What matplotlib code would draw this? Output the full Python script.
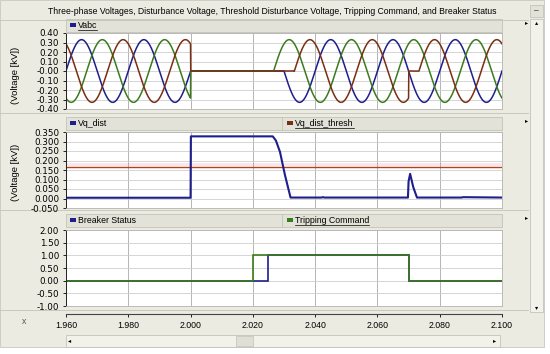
import numpy as np
import matplotlib
matplotlib.use("Agg")
import matplotlib.pyplot as plt
import matplotlib.ticker as mticker
from matplotlib.patches import Rectangle

plt.rcParams["font.family"] = ["Liberation Sans", "DejaVu Sans"]

# ---- data ----
T_START, T_END = 1.960, 2.100
x_ticks = [1.960, 1.980, 2.000, 2.020, 2.040, 2.060, 2.080, 2.100]

# three-phase voltages (50 Hz sinusoids), amplitude in kV
freq_hz = 50.0
amp_kv = 0.33
phase_names = ["a", "b", "c"]
phase_shift_deg = [0.0, -120.0, 120.0]
outage_start = 2.000
reclose_time = [2.0300, 2.0267, 2.0333]      # per phase
gap_phase_c = [2.0700, 2.0733]               # short zero on phase c

# disturbance voltage Vq_dist
vq_t = [1.960, 2.0000, 2.0001, 2.0264, 2.0274, 2.0287, 2.0303, 2.0321,
        2.0420, 2.0425, 2.0430, 2.0698, 2.0700, 2.0705, 2.0715, 2.0727,
        2.0870, 2.0875, 2.100]
vq_v = [0.004, 0.004, 0.327, 0.327, 0.305, 0.246, 0.124, 0.005,
        0.005, 0.007, 0.005, 0.005, 0.090, 0.130, 0.060, 0.005,
        0.005, 0.007, 0.005]
vq_thresh = 0.165

# breaker status / tripping command (step edges and levels)
breaker_edges = [1.960, 2.0248, 2.0700, 2.100]
breaker_vals = [0.0, 1.0, 0.0]
trip_edges = [1.960, 2.0200, 2.0700, 2.100]
trip_vals = [0.0, 1.0, 0.0]

# ---- styling ----
W, H = 550, 354
BG = "#ECEBE2"
BLUE = "#1E1E8C"
GREEN = "#3C7A1E"
BROWN = "#7A2E14"
THRESH = "#B0421C"
FS = 6.3


def box(x0, y0, x1, y1):
    return [x0 / W, 1 - y1 / H, (x1 - x0) / W, (y1 - y0) / H]


fig = plt.figure(figsize=(5.5, 3.54), dpi=100)
fig.patch.set_facecolor("white")

bg = fig.add_axes([0, 0, 1, 1], zorder=0)
bg.set_xlim(0, W)
bg.set_ylim(H, 0)
bg.axis("off")

bg.add_patch(Rectangle((0, 0), 544, 347, fc=BG, ec="#C8C7BE", lw=0.6))
bg.plot([0, 528], [20, 20], color="#C4C3B8", lw=0.6)
bg.text(272, 11, "Three-phase Voltages, Disturbance Voltage, Threshold Disturbance Voltage, "
        "Tripping Command, and Breaker Status", ha="center", va="center", fontsize=6.2)

# separators between panels
for y in [113, 210, 310]:
    bg.plot([0, 528], [y, y], color="#C4C3B8", lw=0.6)

# panel headers
headers = [19, 117, 214]
for y in headers:
    bg.add_patch(Rectangle((66, y), 436, 13, fc="#E3E2D8", ec="#C4C3B8", lw=0.6))
    bg.text(527, y + 4, "\u25B8", ha="center", va="center", fontsize=4.5)

bg.plot([282, 282], [117, 130], color="#C4C3B8", lw=0.6)
bg.plot([282, 282], [214, 227], color="#C4C3B8", lw=0.6)

# vertical scrollbar + minimise button
bg.add_patch(Rectangle((530, 5), 13, 12, fc="#E3E2D8", ec="#C4C3B8", lw=0.6))
bg.text(536.5, 11, "\u2013", ha="center", va="center", fontsize=6)
bg.add_patch(Rectangle((530, 19), 13, 293, fc="#F2F1EA", ec="#C4C3B8", lw=0.6))
bg.text(536.5, 23, "\u25B4", ha="center", va="center", fontsize=4.5)
bg.text(536.5, 308, "\u25BE", ha="center", va="center", fontsize=4.5)

# horizontal scrollbar
bg.add_patch(Rectangle((66, 335), 434, 12, fc="#F2F1EA", ec="#C4C3B8", lw=0.6))
bg.add_patch(Rectangle((236, 336), 17, 10, fc="#E0DFD6", ec="#C4C3B8", lw=0.5))
bg.text(70, 341, "\u25C2", ha="center", va="center", fontsize=4.5)
bg.text(495, 341, "\u25B8", ha="center", va="center", fontsize=4.5)

bg.text(24, 321, "x", ha="center", va="center", fontsize=FS, color="#555555")
for yc in [75, 172]:
    bg.text(15, yc, "(Voltage [kV])", rotation=90, ha="center", va="center", fontsize=6.8)

# legend entries: (x, header_y, label, colour, underlined)
legend_items = [
    (70, 19, "Vabc", BLUE, True),
    (70, 117, "Vq_dist", BLUE, False),
    (287, 117, "Vq_dist_thresh", BROWN, True),
    (70, 214, "Breaker Status", BLUE, False),
    (287, 214, "Tripping Command", GREEN, True),
]
legend_texts = []
for lx, hy, lab, col, ul in legend_items:
    bg.add_patch(Rectangle((lx, hy + 4), 6, 4, fc=col, ec="none"))
    t = bg.text(lx + 8, hy + 6.5, lab, ha="left", va="center", fontsize=FS)
    legend_texts.append((t, ul, hy))


def style_axes(ax, ylim, yticks, fmt):
    ax.set_xlim(T_START, T_END)
    ax.set_ylim(*ylim)
    ax.set_xticks(x_ticks)
    ax.set_yticks(yticks)
    ax.yaxis.set_major_formatter(mticker.FormatStrFormatter(fmt))
    ax.tick_params(axis="x", length=0, labelbottom=False)
    ax.tick_params(axis="y", direction="out", length=2.5, width=0.6, labelsize=6.3,
                   pad=2.5, labelfontfamily="DejaVu Sans")
    ax.grid(axis="x", color="#A8A8A8", lw=0.6)
    ax.grid(axis="y", color="#CFCFCF", lw=0.6)
    ax.set_axisbelow(True)
    for s in ["top", "right", "bottom"]:
        ax.spines[s].set_color("#B4B4B4")
        ax.spines[s].set_linewidth(0.6)
    ax.spines["left"].set_color("#222222")
    ax.spines["left"].set_linewidth(0.7)


# ---- panel 1: Vabc ----
ax1 = fig.add_axes(box(66, 33, 502, 109), zorder=2)
style_axes(ax1, (-0.40, 0.40), np.arange(-0.40, 0.401, 0.10), "%.2f")
t = np.linspace(T_START, T_END, 4000)
phase_colors = [BLUE, GREEN, BROWN]
for name, shift, trc, col in zip(phase_names, phase_shift_deg, reclose_time, phase_colors):
    v = amp_kv * np.sin(2 * np.pi * freq_hz * (t - T_START) + np.deg2rad(shift))
    v[(t >= outage_start) & (t < trc)] = 0.0
    if name == "c":
        v[(t >= gap_phase_c[0]) & (t < gap_phase_c[1])] = 0.0
    ax1.plot(t, v, color=col, lw=1.1)

# ---- panel 2: Vq_dist ----
ax2 = fig.add_axes(box(66, 132, 502, 208), zorder=2)
style_axes(ax2, (-0.05, 0.35), np.arange(-0.05, 0.351, 0.05), "%.3f")
ax2.axhspan(vq_thresh + 0.006, vq_thresh + 0.022, color="#FCE6EC", lw=0, zorder=0.5)
ax2.axhline(vq_thresh, color=THRESH, lw=1.0)
ax2.plot(vq_t, vq_v, color=BLUE, lw=1.5)

# ---- panel 3: breaker / trip ----
ax3 = fig.add_axes(box(66, 230, 502, 306), zorder=2)
style_axes(ax3, (-1.0, 2.0), np.arange(-1.0, 2.01, 0.5), "%.2f")
ax3.stairs(breaker_vals, breaker_edges, color=BLUE, lw=1.2)
ax3.stairs(trip_vals, trip_edges, color=GREEN, lw=1.2)

# ---- shared time axis ----
ax4 = fig.add_axes(box(66, 313, 502, 314), zorder=2)
ax4.patch.set_visible(False)
ax4.set_xlim(T_START, T_END)
ax4.set_xticks(x_ticks)
ax4.xaxis.set_major_formatter(mticker.FormatStrFormatter("%.3f"))
ax4.set_yticks([])
for s in ["top", "left", "right"]:
    ax4.spines[s].set_visible(False)
ax4.spines["bottom"].set_color("#444444")
ax4.spines["bottom"].set_linewidth(0.8)
ax4.tick_params(axis="x", direction="out", length=2, width=0.6, labelsize=FS, pad=3)

# underline selected legend labels
fig.canvas.draw()
inv = bg.transData.inverted()
for txt, ul, hy in legend_texts:
    if ul:
        bb = txt.get_window_extent()
        (x0, _), (x1, _) = inv.transform([(bb.x0, bb.y0), (bb.x1, bb.y1)])
        bg.plot([x0, x1], [hy + 10.5, hy + 10.5], color="black", lw=0.5)

fig.savefig("out.png", dpi=100)
